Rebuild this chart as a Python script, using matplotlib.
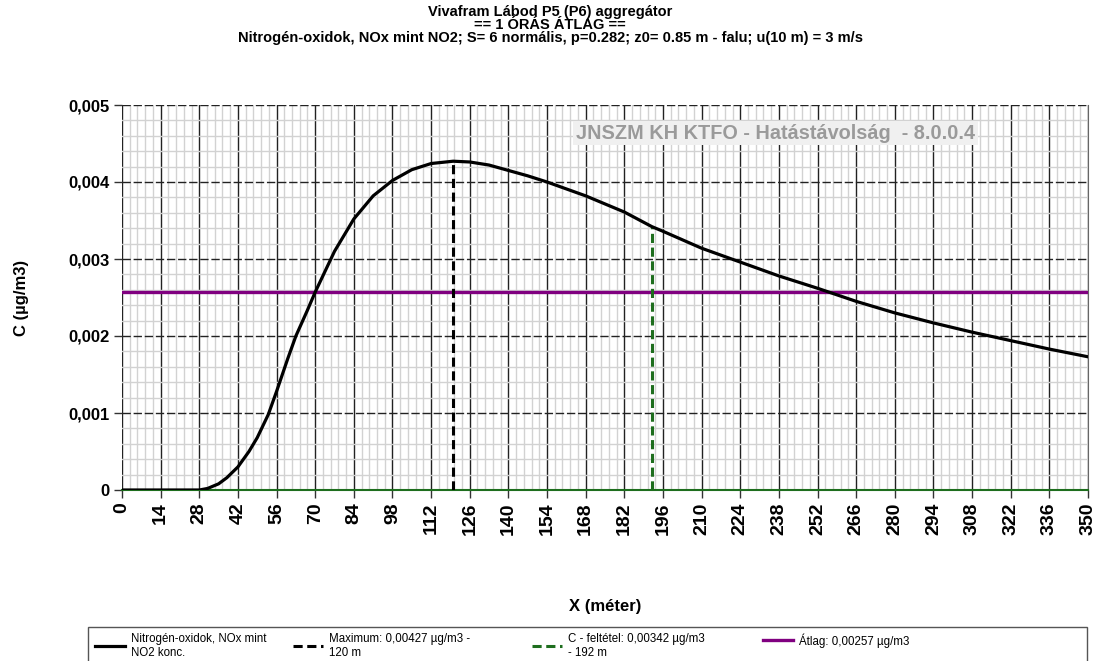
import matplotlib
matplotlib.use("Agg")
import matplotlib.pyplot as plt
from matplotlib.ticker import MultipleLocator, FuncFormatter
from matplotlib.lines import Line2D
from matplotlib.patches import Rectangle

plt.rcParams['font.family'] = ['Liberation Sans', 'DejaVu Sans']

# black curve: concentration vs distance
dist = [0, 14, 28, 31, 35, 38, 42, 46, 49, 53, 56, 60, 63, 67, 70, 77, 84, 91, 98,
        105, 112, 120, 126, 133, 140, 147, 154, 168, 182, 192, 196, 210, 224, 238,
        252, 266, 280, 294, 308, 322, 336, 350]
conc = [0, 0, 0, 0.00002, 0.00008, 0.00016, 0.00030, 0.00050, 0.00068, 0.00098,
        0.00128, 0.00170, 0.00200, 0.00232, 0.00257, 0.00310, 0.00352, 0.00382,
        0.00402, 0.00416, 0.00424, 0.00427, 0.00426, 0.00422, 0.00415, 0.00408,
        0.00400, 0.00382, 0.00361, 0.00342, 0.00336, 0.00314, 0.00296, 0.00278,
        0.00262, 0.00245, 0.00230, 0.00217, 0.00205, 0.00194, 0.00183, 0.00173]

max_x, max_c = 120, 0.00427
cond_x, cond_c = 192, 0.00342
avg_c = 0.00257

labels = ['Nitrogén-oxidok, NOx mint\nNO2 konc.',
          'Maximum: 0,00427 µg/m3 -\n120 m',
          'C - feltétel: 0,00342 µg/m3\n- 192 m',
          'Átlag: 0,00257 µg/m3']

title_lines = ['Vivafram Lábod P5 (P6) aggregátor',
               '== 1 ÓRÁS ÁTLAG ==',
               'Nitrogén-oxidok, NOx mint NO2; S= 6 normális, p=0.282; z0= 0.85 m - falu; u(10 m) = 3 m/s']

W, H = 1096, 661
fig = plt.figure(figsize=(W / 100, H / 100), dpi=100)
ax = fig.add_axes([122 / W, 1 - 490 / H, 966 / W, 385 / H])

green = '#1e6e1e'
purple = '#800080'
dash = (0, (3, 1.5))

ax.axhline(avg_c, color=purple, lw=2.4, zorder=3)
ax.plot([max_x, max_x], [0, max_c], color='black', lw=2.2, ls=dash, zorder=4)
ax.plot([cond_x, cond_x], [0, cond_c], color=green, lw=2.2, ls=dash, zorder=4)
ax.plot(dist, conc, color='black', lw=2.3, zorder=5)

ax.set_xlim(0, 350)
ax.set_ylim(0, 0.005)
ax.xaxis.set_major_locator(MultipleLocator(14))
ax.xaxis.set_minor_locator(MultipleLocator(2.8))
ax.yaxis.set_major_locator(MultipleLocator(0.001))
ax.yaxis.set_minor_locator(MultipleLocator(0.0002))
ax.grid(which='minor', color='#d2d2d2', lw=1)
ax.grid(which='major', axis='x', color='#222222', lw=1)
ax.grid(which='major', axis='y', color='#222222', lw=1, ls=(0, (6, 2)))
ax.set_axisbelow(True)

for s in ['top', 'left']:
    ax.spines[s].set_visible(False)
ax.spines['right'].set_color('#666666')
ax.spines['bottom'].set_color(green)
ax.spines['bottom'].set_linewidth(1.5)

ax.yaxis.set_major_formatter(FuncFormatter(lambda v, p: '0' if abs(v) < 1e-9 else f'{v:.3f}'.replace('.', ',')))
ax.tick_params(which='minor', length=0)
ax.tick_params(which='major', length=6, color='#333333', width=1, pad=3)
ax.tick_params(axis='x', labelrotation=90, labelsize=14)
ax.tick_params(axis='y', labelsize=12)
for t in ax.get_xticklabels() + ax.get_yticklabels():
    t.set_fontweight('bold')

ax.set_xlabel('X (méter)', fontsize=12, fontweight='bold')
ax.set_ylabel('C (µg/m3)', fontsize=12, fontweight='bold')
ax.xaxis.set_label_coords(0.5, (490 - 599) / 385)
ax.yaxis.set_label_coords((29 - 122) / 966, 0.5)

for i, line in enumerate(title_lines):
    fig.text(0.502, 1 - (12 + 13 * i) / H, line, ha='center', va='center',
             fontsize=10.5, fontweight='bold')

ax.text(0.883, 0.927, 'JNSZM KH KTFO - Hatástávolság  - 8.0.0.4', transform=ax.transAxes,
        ha='right', va='center', fontsize=14.3, fontweight='bold', color='#9a9a9a',
        bbox=dict(facecolor='#f0f0f0', edgecolor='none', pad=2), zorder=6)

# legend box runs past the bottom edge
fig.patches.append(Rectangle((88 / W, -0.05), 999 / W, 0.05 + 1 - 627 / H,
                             transform=fig.transFigure, facecolor='white',
                             edgecolor='#555555', lw=1))

handles = [Line2D([], [], color='black', lw=2.3),
           Line2D([], [], color='black', lw=2.2, ls=dash),
           Line2D([], [], color=green, lw=2.2, ls=dash),
           Line2D([], [], color=purple, lw=2.4)]
col_x = [95, 293, 532, 763]
for h, lab, x in zip(handles, labels, col_x):
    fig.legend([h], [lab], loc='upper left', bbox_to_anchor=(x / W, 1 - 633 / H),
               prop={'size': 8.3}, frameon=False, handlelength=2.6, handletextpad=0.5,
               borderaxespad=0, borderpad=0)

fig.savefig('out.png', dpi=100)
